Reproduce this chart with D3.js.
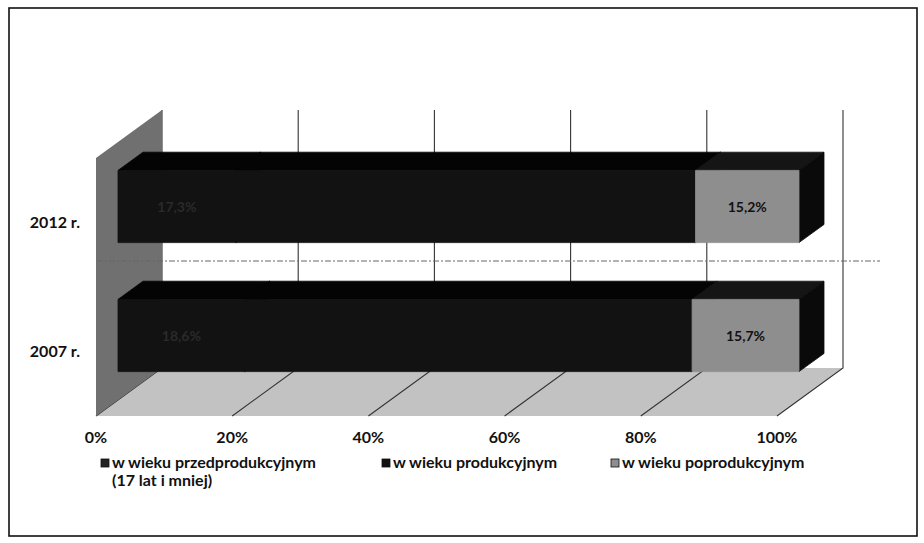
<!DOCTYPE html>
<html><head><meta charset="utf-8">
<script src="https://cdn.jsdelivr.net/npm/d3@7/dist/d3.min.js"></script>
<style>body{margin:0;background:#fff}svg{display:block}text{font-family:Lato,"Open Sans",sans-serif;font-weight:700}</style>
</head><body><svg id="c" width="924" height="543"></svg>
<script>
const categories = ["2012 r.", "2007 r."];
const seriesNames = ["w wieku przedprodukcyjnym", "w wieku produkcyjnym", "w wieku poprodukcyjnym"];
const przedValues = [17.3, 18.6];
const prodValues = [67.5, 65.7];
const poprodValues = [15.2, 15.7];
const tickLabels = ["0%", "20%", "40%", "60%", "80%", "100%"];
const tickValues = [0, 20, 40, 60, 80, 100];

const svg = d3.select("#c");
// frame
svg.append("rect").attr("x",9).attr("y",8).attr("width",908).attr("height",528)
  .attr("fill","none").attr("stroke","#111").attr("stroke-width",1.6);

// 3D projection parameters
const DX = 66, DY = -48;            // full depth offset
const FRONT_Y = 416, TOP_Y_FRONT = 158;
const x = d3.scaleLinear().domain([0,100]).range([96, 777]); // front plane
const P = (v, d, y) => [x(v) + DX*d, y + DY*d];
const poly = pts => "M" + pts.map(p=>p.join(",")).join("L") + "Z";

const barFront = 1/3, barBack = 47/66;
const y = d3.scaleBand().domain(categories).range([TOP_Y_FRONT, FRONT_Y])
  .paddingInner(0.44).paddingOuter(0.22);

const g = svg.append("g");

// floor
g.append("path").attr("d", poly([P(0,0,FRONT_Y),P(100,0,FRONT_Y),P(100,1,FRONT_Y),P(0,1,FRONT_Y)]))
  .attr("fill","#c2c2c2");
// back wall gridlines
tickValues.forEach(v=>{
  const a = P(v,1,TOP_Y_FRONT), b = P(v,1,FRONT_Y), c = P(v,0,FRONT_Y);
  g.append("path").attr("d", `M${a}L${b}L${c}`).attr("fill","none")
    .attr("stroke","#333").attr("stroke-width",1.1);
});
// left wall
g.append("path").attr("d", poly([P(0,0,FRONT_Y),P(0,1,FRONT_Y),P(0,1,TOP_Y_FRONT),P(0,0,TOP_Y_FRONT)]))
  .attr("fill","#707070");

// scan line across
g.append("line").attr("x1",97).attr("x2",880).attr("y1",261).attr("y2",261)
  .attr("stroke","#666").attr("stroke-width",1).attr("stroke-dasharray","6,2,2,2");

// bars
const colors = [
  {front:"#121212", top:"#040404", side:"#060606"},
  {front:"#121212", top:"#040404", side:"#060606"},
  {front:"#8e8e8e", top:"#151515", side:"#0a0a0a"}
];
const dd = barBack - barFront;
categories.forEach((cat,i)=>{
  const vals = [przedValues[i], prodValues[i], poprodValues[i]];
  const y0 = y(cat), y1 = y(cat) + y.bandwidth();
  let acc = 0;
  vals.forEach((v,s)=>{
    const a = acc, b = acc + v; acc = b;
    const F = (val,yy)=>P(val,barFront,yy), B = (val,yy)=>P(val,barBack,yy);
    const face = (d, col) => g.append("path").attr("d", d).attr("fill", col)
      .attr("stroke", col).attr("stroke-width", 0.8).attr("stroke-linejoin","round");
    face(poly([F(a,y0),F(b,y0),B(b,y0),B(a,y0)]), colors[s].top);
    face(poly([F(b,y0),B(b,y0),B(b,y1),F(b,y1)]), colors[s].side);
    face(poly([F(a,y0),F(b,y0),F(b,y1),F(a,y1)]), colors[s].front);
    if (s !== 1) {
      const c = F((a+b)/2, (y0+y1)/2);
      g.append("text").attr("x",c[0]).attr("y",c[1]+5).attr("text-anchor","middle")
        .attr("font-size",14).attr("fill", s===0 ? "#2a2a2a" : "#111")
        .text(v.toFixed(1).replace(".",",") + "%");
    }
  });
  // category label
  g.append("text").attr("x",80).attr("y", y0 + y.bandwidth()/2 + 5).attr("text-anchor","end")
    .attr("font-size",16).attr("fill","#111").text(cat);
});

// axis labels
tickValues.forEach((v,i)=>{
  g.append("text").attr("x",x(v)).attr("y",443).attr("text-anchor","middle")
    .attr("font-size",16).attr("fill","#111").text(tickLabels[i]);
});

// legend
const legX = [101, 382, 611];
const legColors = ["#222","#111","#8e8e8e"];
seriesNames.forEach((n,i)=>{
  g.append("rect").attr("x",legX[i]).attr("y",459).attr("width",8).attr("height",8).attr("fill",legColors[i])
    .attr("stroke","#111").attr("stroke-width",0.8);
  g.append("text").attr("x",legX[i]+11).attr("y",468).attr("font-size",16).attr("fill","#111").text(n);
});
g.append("text").attr("x",112).attr("y",486).attr("font-size",16).attr("fill","#111").text("(17 lat i mniej)");
</script></body></html>
